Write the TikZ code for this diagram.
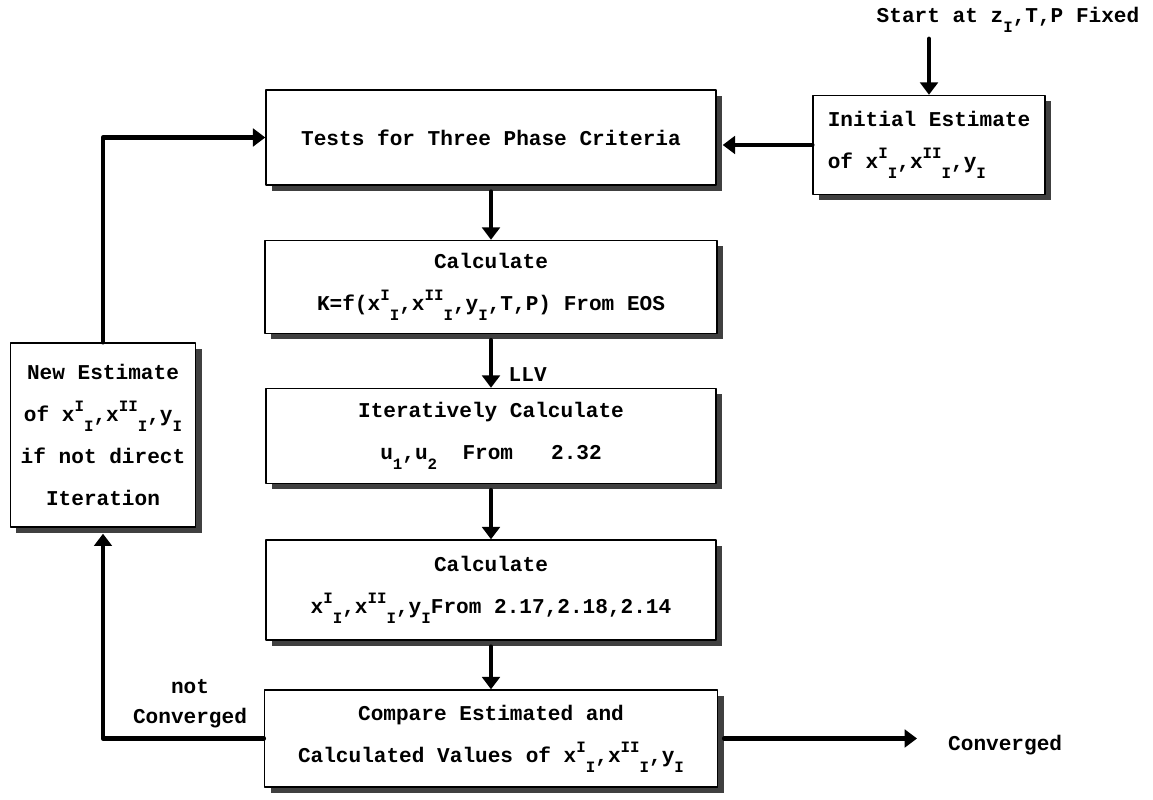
\documentclass[tikz,border=0pt]{standalone}
\usepackage{fontspec}
\setmainfont{Liberation Mono}
\usepackage{tikz}
\usetikzlibrary{arrows.meta,calc,positioning,shadows}

\newcommand{\up}[1]{\raisebox{0.9ex}{\small #1}}
\newcommand{\dn}[1]{\raisebox{-0.9ex}{\small #1}}

\begin{document}
\begin{tikzpicture}[line cap=round,line join=round,>={Triangle[length=7pt,width=10pt]},x=1.0cm,y=1.0cm,
  every node/.style={font=\fontsize{12}{24}\selectfont\bfseries},
  box/.style={draw,line width=0.8pt,fill=white,align=center,inner sep=0pt,
    drop shadow={shadow xshift=0.12cm,shadow yshift=-0.12cm,fill=black!75,opacity=1}},
  flow/.style={->,line width=2.6pt}]
\useasboundingbox (0,0) rectangle (23.06,16);
% main column
\node[box,minimum width=9cm,minimum height=1.9cm] (tests) at (9.82,13.25) {Tests for Three Phase Criteria};
\node[box,minimum width=9.04cm,minimum height=1.86cm] (calc) at (9.82,10.26) {Calculate\\K=f(x\up{I}\dn{I},x\up{II}\dn{I},y\dn{I},T,P) From EOS};
\node[box,minimum width=9cm,minimum height=1.9cm] (iter) at (9.82,7.28) {Iteratively Calculate\\u\dn{1},u\dn{2}~~From~~~2.32};
\node[box,minimum width=9cm,minimum height=2cm] (calcx) at (9.82,4.2) {Calculate\\x\up{I}\dn{I},x\up{II}\dn{I},y\dn{I}From 2.17,2.18,2.14};
\node[box,minimum width=9.06cm,minimum height=1.94cm] (comp) at (9.82,1.23) {Compare Estimated and\\Calculated Values of x\up{I}\dn{I},x\up{II}\dn{I},y\dn{I}};
% side boxes
\node[box,minimum width=4.64cm,minimum height=1.98cm,align=left] (init) at (18.58,13.1) {Initial Estimate\\of x\up{I}\dn{I},x\up{II}\dn{I},y\dn{I}};
\node[box,minimum width=3.7cm,minimum height=3.68cm] (newest) at (2.06,7.3) {New Estimate\\of x\up{I}\dn{I},x\up{II}\dn{I},y\dn{I}\\if not direct\\Iteration};
% labels
\node (start) at (20.16,15.6) {Start at z\dn{I},T,P Fixed};
\node[anchor=west] (conv) at (18.84,1.1) {Converged};
\node[anchor=west] (llv) at (10.05,8.5) {LLV};
\node[align=center,font=\fontsize{12}{17}\selectfont\bfseries] (notconv) at (3.8,1.92) {not\\Converged};

\draw[flow] (start.south -| init.north) -- (init.north);
\draw[flow] (init.west) -- ([xshift=0.12cm]init.west -| tests.east);
\foreach \a/\b in {tests/calc,calc/iter,iter/calcx,calcx/comp}
  \draw[flow] ([yshift=-0.12cm]\a.south) -- (\b.north);
\draw[flow] ([xshift=0.12cm]comp.east) -- ([xshift=-0.5cm]comp.east -| conv.west);
\draw[flow] (comp.west) -- (comp.west -| newest.south) -- ([yshift=-0.12cm]newest.south);
\draw[flow] (newest.north) |- (tests.west);
\end{tikzpicture}
\end{document}
